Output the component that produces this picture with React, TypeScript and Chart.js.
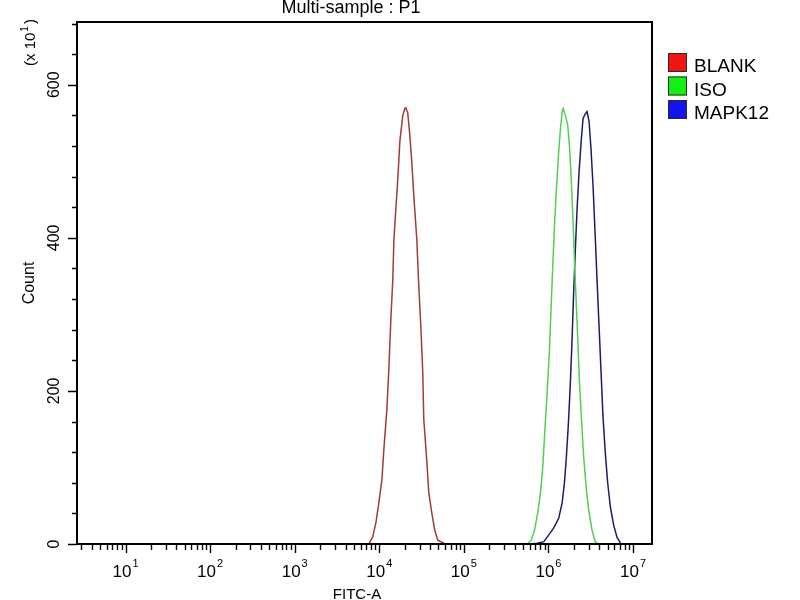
import React, { useEffect, useRef } from 'react';
import Chart from 'chart.js/auto';

// FITC-A intensity (x) and event count in units of 10 (y)
const BLANK_FITC = [7600, 8340, 9120, 9890, 10740, 11320, 12300, 12970, 13710, 14450, 14860, 15700, 16560, 17500, 18970, 20040, 20610, 21730, 22960, 24210, 25590, 27730, 29310, 30970, 32660, 33570, 36390, 38460, 41690, 45290, 49090, 57810];
const BLANK_COUNT = [1, 9, 28, 54, 84, 123, 176, 228, 294, 346, 395, 438, 477, 526, 560, 569, 570, 563, 534, 500, 455, 399, 337, 285, 224, 163, 110, 67, 41, 18, 5, 1];

const ISO_FITC = [561000, 625000, 684000, 748000, 805000, 857000, 904000, 966000, 1028000, 1076000, 1125000, 1178000, 1242000, 1312000, 1387000, 1452000, 1489000, 1585000, 1690000, 1782000, 1866000, 1954000, 2042000, 2138000, 2239000, 2339000, 2472000, 2606000, 2786000, 2985000, 3273000, 3581000, 3917000];
const ISO_COUNT = [0, 5, 18, 41, 67, 101, 146, 198, 254, 311, 363, 416, 464, 508, 543, 565, 569, 560, 547, 516, 473, 420, 363, 311, 258, 205, 158, 114, 75, 45, 18, 3, 0];

const MAPK12_FITC = [581000, 736000, 881000, 1009000, 1156000, 1324000, 1452000, 1545000, 1629000, 1722000, 1816000, 1901000, 1986000, 2080000, 2178000, 2301000, 2432000, 2564000, 2729000, 2858000, 3020000, 3184000, 3365000, 3556000, 3750000, 3963000, 4188000, 4416000, 4699000, 5012000, 5383000, 5888000, 6457000, 7194000];
const MAPK12_COUNT = [0, 1, 3, 12, 21, 34, 54, 80, 114, 158, 211, 267, 329, 385, 437, 486, 525, 556, 562, 565, 552, 516, 468, 407, 346, 285, 224, 166, 119, 80, 49, 25, 9, 0];

const SERIES_NAMES = ['BLANK', 'ISO', 'MAPK12'];
const LINE_COLORS = ['#a23a3a', '#4fd24f', '#1c1c6c'];
const LEGEND_COLORS = ['#f01414', '#14f014', '#1414f0'];

// axis layout
const X_MIN = 2.67;
const X_MAX = 1.675e7;
const X_DECADES = [0, 1, 2, 3, 4, 5, 6, 7];
const X_LABEL_EXPONENTS = [1, 2, 3, 4, 5, 6, 7];
const X_MINOR_MULTIPLES = [2, 3, 4, 5, 6, 7, 8, 9];
const Y_MAX = 682;
const Y_MINOR_STEP = 40;
const Y_LABELS = [0, 200, 400, 600];

const FONT = '"Liberation Sans", Arial, sans-serif';

const cytoFrame = {
  id: 'cytoFrame',
  afterDatasetsDraw(chart: Chart) {
    const { ctx, chartArea: a } = chart;
    const xs = chart.scales.x;
    const ys = chart.scales.y;
    ctx.save();
    ctx.fillStyle = '#000';
    ctx.strokeStyle = '#000';

    // plot frame
    ctx.lineWidth = 2;
    ctx.strokeRect(a.left, a.top, a.right - a.left, a.bottom - a.top);

    // x tick marks (log decades + 2..9 minors)
    ctx.lineWidth = 1.4;
    ctx.beginPath();
    X_DECADES.forEach((d) => {
      [1, ...X_MINOR_MULTIPLES].forEach((m) => {
        const v = m * Math.pow(10, d);
        if (v < X_MIN || v > X_MAX) return;
        const px = Math.round(xs.getPixelForValue(v)) + 0.5;
        const len = m === 1 ? 9 : 6;
        ctx.moveTo(px, a.bottom);
        ctx.lineTo(px, a.bottom + len);
      });
    });
    // y tick marks
    for (let v = 0; v <= Y_MAX; v += Y_MINOR_STEP) {
      const py = Math.round(ys.getPixelForValue(v)) + 0.5;
      const len = Y_LABELS.includes(v) ? 9 : 5;
      ctx.moveTo(a.left, py);
      ctx.lineTo(a.left - len, py);
    }
    ctx.stroke();

    // x tick labels: 10^n
    ctx.textBaseline = 'alphabetic';
    ctx.textAlign = 'left';
    X_LABEL_EXPONENTS.forEach((e) => {
      const px = xs.getPixelForValue(Math.pow(10, e));
      ctx.font = `17px ${FONT}`;
      const wBase = ctx.measureText('10').width;
      ctx.font = `11px ${FONT}`;
      const wExp = ctx.measureText(String(e)).width;
      const start = px - (wBase + wExp + 1) / 2;
      ctx.font = `17px ${FONT}`;
      ctx.fillText('10', start, 577);
      ctx.font = `11px ${FONT}`;
      ctx.fillText(String(e), start + wBase + 1, 567);
    });

    // y tick labels, rotated
    ctx.font = `16px ${FONT}`;
    ctx.textAlign = 'center';
    Y_LABELS.forEach((v) => {
      const py = ys.getPixelForValue(v);
      ctx.save();
      ctx.translate(58.5, py);
      ctx.rotate(-Math.PI / 2);
      ctx.fillText(String(v), 0, 0);
      ctx.restore();
    });

    // y axis title and multiplier
    ctx.save();
    ctx.translate(33.5, 283);
    ctx.rotate(-Math.PI / 2);
    ctx.font = `16px ${FONT}`;
    ctx.textAlign = 'center';
    ctx.fillText('Count', 0, 0);
    ctx.restore();

    ctx.save();
    ctx.translate(35, 66);
    ctx.rotate(-Math.PI / 2);
    ctx.textAlign = 'left';
    ctx.font = `15px ${FONT}`;
    const wLead = ctx.measureText('(x 10').width;
    ctx.fillText('(x 10', 0, 0);
    ctx.font = `10px ${FONT}`;
    const wSup = ctx.measureText('1').width;
    ctx.fillText('1', wLead + 1, -7);
    ctx.font = `15px ${FONT}`;
    ctx.fillText(')', wLead + wSup + 3, 0);
    ctx.restore();

    // x axis title
    ctx.font = `15px ${FONT}`;
    ctx.textAlign = 'center';
    ctx.fillText('FITC-A', 357, 599);

    // chart title
    ctx.font = `18px ${FONT}`;
    ctx.fillText('Multi-sample : P1', 351, 13);

    // legend
    ctx.textAlign = 'left';
    ctx.font = `19px ${FONT}`;
    SERIES_NAMES.forEach((name, i) => {
      const top = 53 + i * 23.5;
      ctx.fillStyle = LEGEND_COLORS[i];
      ctx.fillRect(668, top, 19, 19);
      ctx.lineWidth = 1;
      ctx.strokeStyle = '#2a2a2a';
      ctx.strokeRect(668.5, top + 0.5, 18, 18);
      ctx.fillStyle = '#000';
      ctx.fillText(name, 694, top + 19);
    });

    ctx.restore();
  },
};

const App: React.FC = () => {
  const canvasRef = useRef<HTMLCanvasElement>(null);
  const chartRef = useRef<Chart | null>(null);

  useEffect(() => {
    if (!canvasRef.current) return;
    if (chartRef.current) chartRef.current.destroy();

    const xs = [BLANK_FITC, ISO_FITC, MAPK12_FITC];
    const ys = [BLANK_COUNT, ISO_COUNT, MAPK12_COUNT];

    chartRef.current = new Chart(canvasRef.current, {
      type: 'line',
      data: {
        datasets: SERIES_NAMES.map((name, i) => ({
          label: name,
          data: xs[i].map((x, j) => ({ x, y: ys[i][j] })),
          borderColor: LINE_COLORS[i],
          borderWidth: 1.5,
          pointRadius: 0,
          tension: 0,
          fill: false,
        })),
      },
      options: {
        responsive: false,
        animation: false,
        devicePixelRatio: 1,
        layout: { padding: { left: 77, top: 22, right: 148, bottom: 56 } },
        plugins: {
          legend: { display: false },
          title: { display: false },
          tooltip: { enabled: false },
        },
        scales: {
          x: { type: 'logarithmic', min: X_MIN, max: X_MAX, display: false },
          y: { type: 'linear', min: 0, max: Y_MAX, display: false },
        },
      },
      plugins: [cytoFrame],
    });

    return () => {
      if (chartRef.current) {
        chartRef.current.destroy();
        chartRef.current = null;
      }
    };
  }, []);

  return (
    <div style={{ position: 'fixed', left: 0, top: 0, width: 800, height: 600, background: '#fff' }}>
      <canvas ref={canvasRef} width={800} height={600}></canvas>
    </div>
  );
};

export default App;
